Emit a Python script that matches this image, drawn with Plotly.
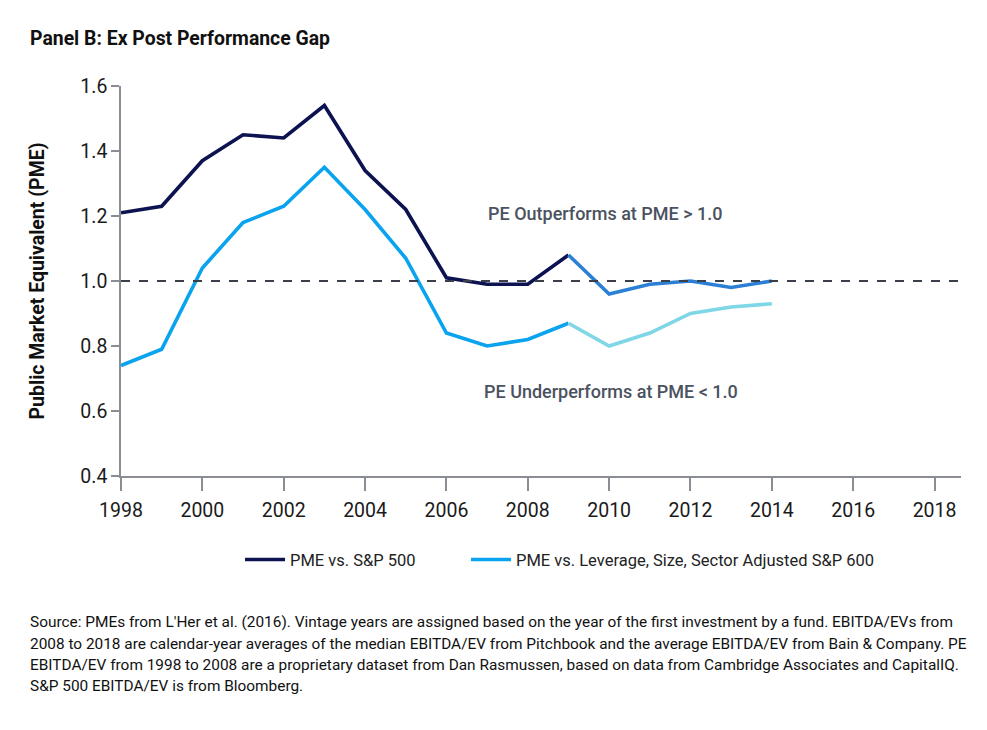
import plotly.graph_objects as go

years = list(range(1998, 2015))
pme_sp500 = [1.21, 1.23, 1.37, 1.45, 1.44, 1.54, 1.34, 1.22, 1.01, 0.99, 0.99, 1.08,
             0.96, 0.99, 1.00, 0.98, 1.00]
pme_sp600 = [0.74, 0.79, 1.04, 1.18, 1.23, 1.35, 1.22, 1.07, 0.84, 0.80, 0.82, 0.87,
             0.80, 0.84, 0.90, 0.92, 0.93]
split_year = 2009
x_ticks = list(range(1998, 2019, 2))
y_ticks = [0.4, 0.6, 0.8, 1.0, 1.2, 1.4, 1.6]
footnote_lines = [
    "Source: PMEs from L'Her et al. (2016). Vintage years are assigned based on the year of the first investment by a fund. EBITDA/EVs from",
    "2008 to 2018 are calendar-year averages of the median EBITDA/EV from Pitchbook and the average EBITDA/EV from Bain & Company. PE",
    "EBITDA/EV from 1998 to 2008 are a proprietary dataset from Dan Rasmussen, based on data from Cambridge Associates and CapitalIQ.",
    "S&P 500 EBITDA/EV is from Bloomberg.",
]

NAVY = "#0c1350"
MID_BLUE = "#2b80d6"
LIGHT_BLUE = "#0aa3ef"
CYAN = "#7fd6e6"
k = years.index(split_year)

fig = go.Figure()

# threshold line at PME = 1.0
fig.add_shape(type="line", xref="paper", x0=0, x1=1, yref="y", y0=1.0, y1=1.0,
              line=dict(color="#3a3f4a", width=2, dash="dash"))

fig.add_trace(go.Scatter(x=years[:k + 1], y=pme_sp500[:k + 1], mode="lines",
                         name="PME vs. S&P 500", legend="legend",
                         line=dict(color=NAVY, width=3.6)))
fig.add_trace(go.Scatter(x=years[k:], y=pme_sp500[k:], mode="lines", showlegend=False,
                         line=dict(color=MID_BLUE, width=3.6)))
fig.add_trace(go.Scatter(x=years[:k + 1], y=pme_sp600[:k + 1], mode="lines",
                         name="PME vs. Leverage, Size, Sector Adjusted S&P 600", legend="legend2",
                         line=dict(color=LIGHT_BLUE, width=3.6)))
fig.add_trace(go.Scatter(x=years[k:], y=pme_sp600[k:], mode="lines", showlegend=False,
                         line=dict(color=CYAN, width=3.6)))

fig.add_annotation(x=2009.9, y=1.209, text="PE Outperforms at PME > 1.0", showarrow=False,
                   font=dict(size=18, color="#4a5260", family="Roboto", weight=500))
fig.add_annotation(x=2010.05, y=0.661, text="PE Underperforms at PME < 1.0", showarrow=False,
                   font=dict(size=18, color="#4a5260", family="Roboto", weight=500))

fig.add_annotation(xref="paper", yref="paper", x=-0.1107, y=1.123,
                   xanchor="left", yanchor="middle", showarrow=False,
                   text="<b>Panel B: Ex Post Performance Gap</b>",
                   font=dict(size=19.4, color="#111", family="Roboto"))

for i, line in enumerate(footnote_lines):
    fig.add_annotation(xref="paper", yref="paper", x=-0.1107, y=-0.3744 - i * 0.0551,
                       xanchor="left", yanchor="middle", align="left", showarrow=False,
                       text=line, font=dict(size=15.4, color="#111", family="Roboto"))

legend_style = dict(orientation="h", y=-0.215, yanchor="middle", xanchor="left",
                    font=dict(size=16.5, color="#222"), itemwidth=40,
                    bgcolor="rgba(0,0,0,0)")

fig.update_layout(
    width=987, height=730,
    margin=dict(l=113, r=34, t=78, b=262),
    plot_bgcolor="white", paper_bgcolor="white",
    font=dict(family="Roboto", color="#222"),
    showlegend=True,
    legend=dict(x=0.1417, **legend_style),
    legend2=dict(x=0.4107, **legend_style),
)
fig.update_xaxes(
    range=[1998, 2018.65], tickmode="array", tickvals=x_ticks,
    showgrid=False, zeroline=False, showline=True, linecolor="#8a8d94", linewidth=1.5,
    ticks="outside", ticklen=13, tickcolor="#8a8d94", tickwidth=1.5,
    tickfont=dict(size=19.5, color="#1a1a1a"), ticklabelstandoff=3,
)
fig.update_yaxes(
    range=[0.4, 1.6], tickmode="array", tickvals=y_ticks, tickformat=".1f",
    showgrid=False, zeroline=False, showline=True, linecolor="#8a8d94", linewidth=1.5,
    ticks="outside", ticklen=8, tickcolor="#8a8d94", tickwidth=1.5,
    tickfont=dict(size=19.5, color="#1a1a1a"),
    title=dict(text="<b>Public Market Equivalent (PME)</b>", font=dict(size=19.5, color="#111"),
               standoff=30),
)

fig.write_html("out.html")
